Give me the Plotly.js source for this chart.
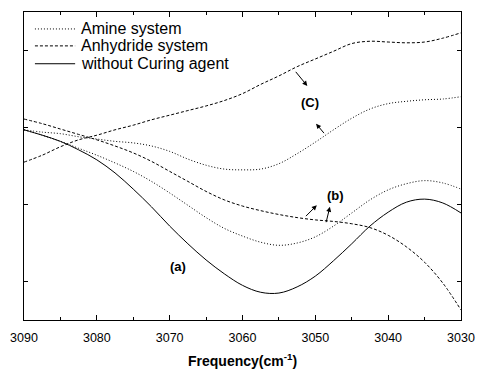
<!DOCTYPE html>
<html>
<head>
<meta charset="utf-8">
<script src="https://cdn.plot.ly/plotly-3.0.1.min.js"></script>
<style>html,body{margin:0;padding:0;background:#fff;}#chart{width:477px;height:369px;}</style>
</head>
<body>
<div id="chart"></div>
<script>
// Frequency (cm-1)
var frequency = [3090, 3087.5, 3085, 3082.5, 3080, 3077.5, 3075, 3072.5, 3070, 3067.5, 3065, 3062.5, 3060,
                 3057.5, 3055, 3052.5, 3050, 3047.5, 3045, 3042.5, 3040, 3037.5, 3035, 3032.5, 3030];
// (a) without curing agent
var withoutCuring = [2.97, 2.90, 2.82, 2.71, 2.58, 2.41, 2.20, 1.97, 1.72, 1.49, 1.28, 1.10, 0.95,
                     0.86, 0.85, 0.93, 1.07, 1.27, 1.49, 1.72, 1.90, 2.03, 2.07, 2.02, 1.89];
// (C) anhydride system (upper)
var anhydrideC = [2.55, 2.64, 2.75, 2.84, 2.90, 2.97, 3.03, 3.10, 3.16, 3.22, 3.28, 3.35, 3.44,
                  3.56, 3.67, 3.79, 3.89, 3.99, 4.09, 4.12, 4.11, 4.10, 4.11, 4.16, 4.23];
// (C) amine system (upper)
var amineC = [2.97, 2.94, 2.92, 2.88, 2.85, 2.82, 2.80, 2.76, 2.69, 2.59, 2.51, 2.46, 2.45,
              2.46, 2.53, 2.66, 2.81, 2.97, 3.12, 3.24, 3.31, 3.34, 3.36, 3.37, 3.40];
// (b) anhydride system (lower)
var anhydrideB = [3.11, 3.05, 2.98, 2.91, 2.84, 2.76, 2.67, 2.56, 2.43, 2.30, 2.17, 2.06, 1.98,
                  1.92, 1.87, 1.83, 1.80, 1.78, 1.75, 1.70, 1.60, 1.45, 1.25, 0.98, 0.63];
// (b) amine system (lower)
var amineB = [2.97, 2.90, 2.82, 2.73, 2.64, 2.54, 2.43, 2.30, 2.15, 1.99, 1.83, 1.69, 1.59,
              1.51, 1.47, 1.50, 1.58, 1.72, 1.89, 2.06, 2.19, 2.27, 2.31, 2.28, 2.20];

var legendNames = ['Amine system', 'Anhydride system', 'without Curing agent'];
var majorTicks = [3090, 3080, 3070, 3060, 3050, 3040, 3030];
var minorTicks = [3085, 3075, 3065, 3055, 3045, 3035];
var yTicks = [1, 2, 3, 4];

var FONT = 'Liberation Sans, Arial, sans-serif';
var DOT = '1px,2px', DASH = '3px,2px';
var dotLine = {color: '#000', width: 1, dash: DOT, shape: 'spline', smoothing: 1};
var dashLine = {color: '#000', width: 1, dash: DASH, shape: 'spline', smoothing: 1};
var solidLine = {color: '#000', width: 1, shape: 'spline', smoothing: 1};

var traces = [
  {x: frequency, y: amineC, mode: 'lines', name: legendNames[0], line: dotLine},
  {x: frequency, y: anhydrideC, mode: 'lines', name: legendNames[1], line: dashLine},
  {x: frequency, y: withoutCuring, mode: 'lines', name: legendNames[2], line: solidLine},
  {x: frequency, y: amineB, mode: 'lines', name: legendNames[0], line: dotLine},
  {x: frequency, y: anhydrideB, mode: 'lines', name: legendNames[1], line: dashLine}
];

function arrow(x, y, ax, ay) {
  return {x: x, y: y, ax: ax, ay: ay, xref: 'x', yref: 'y', axref: 'x', ayref: 'y',
          text: ' ', showarrow: true, arrowhead: 2, arrowsize: 1, arrowwidth: 1, arrowcolor: '#000', standoff: 0};
}
function label(x, y, t) {
  return {x: x, y: y, xref: 'x', yref: 'y', text: '<b>' + t + '</b>', showarrow: false,
          font: {family: FONT, size: 13, color: '#000'}};
}

// manual legend (paper coordinates)
var legendY = [0.945, 0.89, 0.832];
var legendDash = [DOT, DASH, 'solid'];
var shapes = [], annotations = [];
for (var i = 0; i < 3; i++) {
  shapes.push({type: 'line', xref: 'paper', yref: 'paper', x0: 0.025, x1: 0.117, y0: legendY[i], y1: legendY[i],
               line: {color: '#000', width: 1, dash: legendDash[i]}});
  annotations.push({xref: 'paper', yref: 'paper', x: 0.126, y: legendY[i], xanchor: 'left', yanchor: 'middle',
                    text: legendNames[i], showarrow: false, font: {family: FONT, size: 16, color: '#000'}});
}
annotations.push(
  label(3068.9, 1.19, '(a)'),
  label(3047.3, 2.12, '(b)'),
  label(3050.7, 3.33, '(C)'),
  arrow(3051.1, 3.54, 3053.1, 3.77),
  arrow(3049.9, 3.05, 3048.4, 2.88),
  arrow(3049.8, 1.99, 3051.7, 1.81),
  arrow(3048.0, 1.97, 3048.8, 1.66),
  {xref: 'paper', yref: 'paper', x: 0.5, y: 0, xanchor: 'center', yanchor: 'top', yshift: -29,
   text: '<b>Frequency(cm<sup>-1</sup>)</b>', showarrow: false, font: {family: FONT, size: 14, color: '#000'}}
);

var layout = {
  width: 477, height: 369,
  margin: {l: 24, r: 16, t: 12, b: 49},
  paper_bgcolor: '#fff', plot_bgcolor: '#fff',
  font: {family: FONT, color: '#000'},
  showlegend: false,
  xaxis: {
    range: [3090, 3030], tickmode: 'array', tickvals: majorTicks, ticktext: majorTicks.map(String),
    ticks: 'inside', ticklen: 5, tickwidth: 1, tickcolor: '#000', ticklabelstandoff: 6,
    minor: {tickmode: 'array', tickvals: minorTicks, ticks: 'inside', ticklen: 3, tickwidth: 1, tickcolor: '#000'},
    showline: true, linecolor: '#000', linewidth: 1.2, mirror: 'ticks',
    showgrid: false, zeroline: false,
    tickfont: {family: FONT, size: 12.5, color: '#000'}
  },
  yaxis: {
    range: [0.5, 4.5], tickmode: 'array', tickvals: yTicks,
    ticks: 'inside', ticklen: 4, tickwidth: 1, tickcolor: '#000',
    showticklabels: false,
    showline: true, linecolor: '#000', linewidth: 1.2, mirror: 'ticks',
    showgrid: false, zeroline: false
  },
  shapes: shapes,
  annotations: annotations
};

Plotly.newPlot('chart', traces, layout, {displayModeBar: false, staticPlot: true});
</script>
</body>
</html>
